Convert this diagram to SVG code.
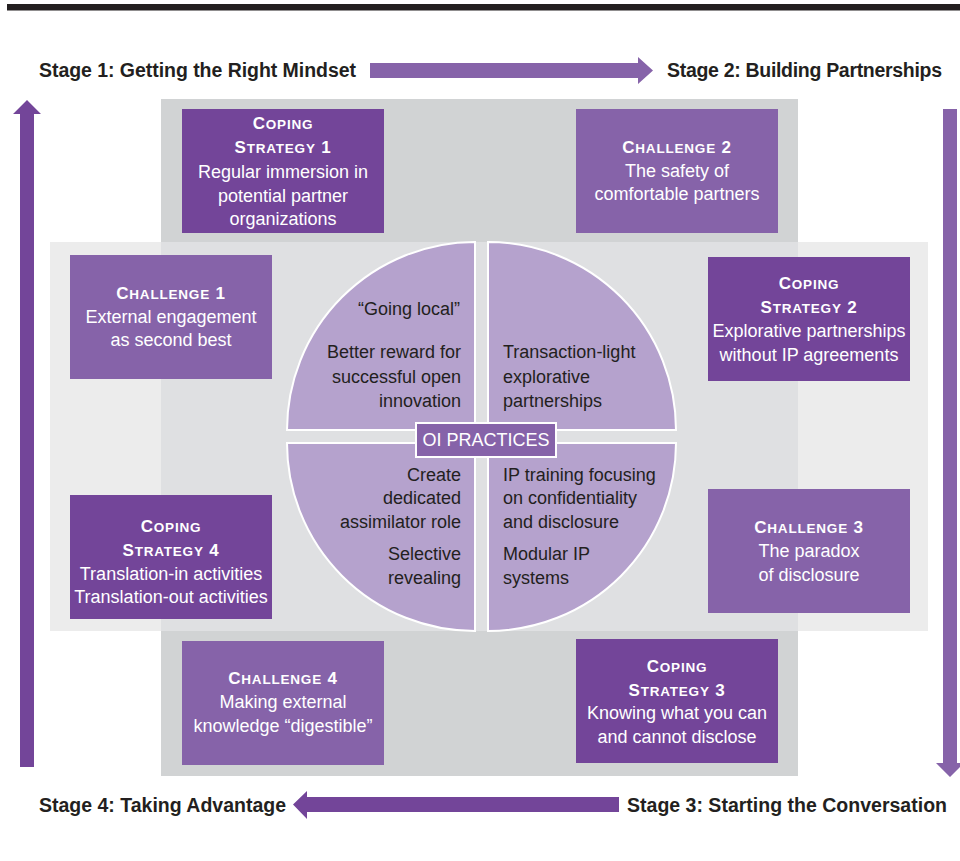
<svg xmlns="http://www.w3.org/2000/svg" width="960" height="861" viewBox="0 0 960 861">
  <style>
    .stage { font-family: "Liberation Sans", Arial, sans-serif; font-weight: bold; font-size: 19.5px; fill: #231f20; }
    .box-dark { fill: #734599; }
    .box-light { fill: #8663a9; }
    .bt { font-family: "Liberation Sans", Arial, sans-serif; font-size: 18px; fill: #ffffff; text-anchor: middle; }
    .hd { font-weight: bold; font-size: 17px; letter-spacing: 0.8px; }
    .sc { font-size: 13.5px; }
    .quad { fill: #b5a2cd; stroke: #ffffff; stroke-width: 2; }
    .ct { font-family: "Liberation Sans", Arial, sans-serif; font-size: 18px; fill: #231f20; }
    .r { text-anchor: end; }
    .arrow-dark { fill: #734599; }
    .arrow-light { fill: #8663a9; }
  </style>

  <!-- heading rule -->
  <rect x="7" y="4" width="953" height="6.5" fill="#231f20"/>

  <!-- backdrop bands -->
  <rect x="161" y="99" width="637" height="677" fill="#d1d3d4"/>
  <rect x="50" y="242" width="878" height="389" fill="#ececec"/>
  <rect x="161" y="242" width="637" height="389" fill="#dfe0e2"/>

  <!-- stage cycle arrows -->
  <g id="connectors">
    <polygon class="arrow-light" points="370,63 638,63 638,57 653,70.5 638,84 638,78 370,78"/>
    <polygon class="arrow-light" points="943,109 957,109 957,763 964,763 950,777 936,763 943,763"/>
    <polygon class="arrow-dark" points="619,797 619,812 307,812 307,819 293,804.5 307,791 307,797"/>
    <polygon class="arrow-dark" points="20,767 20,114 13,114 27,100 41,114 34,114 34,767"/>
  </g>

  <!-- stage labels -->
  <g id="stage1"><text class="stage" x="39" y="77" textLength="317">Stage 1: Getting the Right Mindset</text></g>
  <g id="stage2"><text class="stage" x="667" y="77" textLength="275">Stage 2: Building Partnerships</text></g>
  <g id="stage3"><text class="stage" x="627" y="812" textLength="320">Stage 3: Starting the Conversation</text></g>
  <g id="stage4"><text class="stage" x="39" y="812" textLength="247">Stage 4: Taking Advantage</text></g>

  <!-- challenges and coping strategies -->
  <g id="coping1">
    <rect class="box-dark" x="182" y="109" width="202" height="124"/>
    <text class="bt" x="283" y="129"><tspan class="hd">C<tspan class="sc">OPING</tspan></tspan></text>
    <text class="bt" x="283" y="153"><tspan class="hd">S<tspan class="sc">TRATEGY</tspan> 1</tspan></text>
    <text class="bt" x="283" y="178">Regular immersion in</text>
    <text class="bt" x="283" y="202">potential partner</text>
    <text class="bt" x="283" y="225">organizations</text>
  </g>
  <g id="challenge2">
    <rect class="box-light" x="576" y="109" width="202" height="124"/>
    <text class="bt" x="677" y="153"><tspan class="hd">C<tspan class="sc">HALLENGE</tspan> 2</tspan></text>
    <text class="bt" x="677" y="177">The safety of</text>
    <text class="bt" x="677" y="200">comfortable partners</text>
  </g>
  <g id="challenge1">
    <rect class="box-light" x="70" y="255" width="202" height="124"/>
    <text class="bt" x="171" y="299"><tspan class="hd">C<tspan class="sc">HALLENGE</tspan> 1</tspan></text>
    <text class="bt" x="171" y="323">External engagement</text>
    <text class="bt" x="171" y="346">as second best</text>
  </g>
  <g id="coping2">
    <rect class="box-dark" x="708" y="257" width="202" height="124"/>
    <text class="bt" x="809" y="289"><tspan class="hd">C<tspan class="sc">OPING</tspan></tspan></text>
    <text class="bt" x="809" y="313"><tspan class="hd">S<tspan class="sc">TRATEGY</tspan> 2</tspan></text>
    <text class="bt" x="809" y="337">Explorative partnerships</text>
    <text class="bt" x="809" y="361">without IP agreements</text>
  </g>
  <g id="coping4">
    <rect class="box-dark" x="70" y="495" width="202" height="124"/>
    <text class="bt" x="171" y="532"><tspan class="hd">C<tspan class="sc">OPING</tspan></tspan></text>
    <text class="bt" x="171" y="556"><tspan class="hd">S<tspan class="sc">TRATEGY</tspan> 4</tspan></text>
    <text class="bt" x="171" y="580">Translation-in activities</text>
    <text class="bt" x="171" y="603">Translation-out activities</text>
  </g>
  <g id="challenge3">
    <rect class="box-light" x="708" y="489" width="202" height="124"/>
    <text class="bt" x="809" y="533"><tspan class="hd">C<tspan class="sc">HALLENGE</tspan> 3</tspan></text>
    <text class="bt" x="809" y="557">The paradox</text>
    <text class="bt" x="809" y="581">of disclosure</text>
  </g>
  <g id="challenge4">
    <rect class="box-light" x="182" y="641" width="202" height="124"/>
    <text class="bt" x="283" y="684"><tspan class="hd">C<tspan class="sc">HALLENGE</tspan> 4</tspan></text>
    <text class="bt" x="283" y="708">Making external</text>
    <text class="bt" x="283" y="732">knowledge “digestible”</text>
  </g>
  <g id="coping3">
    <rect class="box-dark" x="576" y="639" width="202" height="124"/>
    <text class="bt" x="677" y="672"><tspan class="hd">C<tspan class="sc">OPING</tspan></tspan></text>
    <text class="bt" x="677" y="696"><tspan class="hd">S<tspan class="sc">TRATEGY</tspan> 3</tspan></text>
    <text class="bt" x="677" y="719">Knowing what you can</text>
    <text class="bt" x="677" y="743">and cannot disclose</text>
  </g>

  <!-- central practices disc, split into quarters -->
  <g id="practice-tl">
    <path class="quad" d="M475,430 L287,430 A188,188 0 0 1 475,242 Z"/>
    <text class="ct r" x="460" y="315">“Going local”</text>
    <text class="ct r" x="461" y="358">Better reward for</text>
    <text class="ct r" x="461" y="383">successful open</text>
    <text class="ct r" x="461" y="407">innovation</text>
  </g>
  <g id="practice-tr">
    <path class="quad" d="M488,430 L488,242 A188,188 0 0 1 676,430 Z"/>
    <text class="ct" x="503" y="358">Transaction-light</text>
    <text class="ct" x="503" y="383">explorative</text>
    <text class="ct" x="503" y="407">partnerships</text>
  </g>
  <g id="practice-bl">
    <path class="quad" d="M475,443 L475,631 A188,188 0 0 1 287,443 Z"/>
    <text class="ct r" x="461" y="481">Create</text>
    <text class="ct r" x="461" y="504">dedicated</text>
    <text class="ct r" x="461" y="528">assimilator role</text>
    <text class="ct r" x="461" y="560">Selective</text>
    <text class="ct r" x="461" y="584">revealing</text>
  </g>
  <g id="practice-br">
    <path class="quad" d="M488,443 L676,443 A188,188 0 0 1 488,631 Z"/>
    <text class="ct" x="503" y="481">IP training focusing</text>
    <text class="ct" x="503" y="504">on confidentiality</text>
    <text class="ct" x="503" y="528">and disclosure</text>
    <text class="ct" x="503" y="560">Modular IP</text>
    <text class="ct" x="503" y="584">systems</text>
  </g>
  <g id="oi-practices">
    <rect x="416" y="423" width="140" height="34" fill="#8663a9" stroke="#ffffff" stroke-width="2"/>
    <text x="486" y="446" font-family="Liberation Sans, Arial, sans-serif" font-size="18" fill="#ffffff" text-anchor="middle">OI PRACTICES</text>
  </g>
</svg>
